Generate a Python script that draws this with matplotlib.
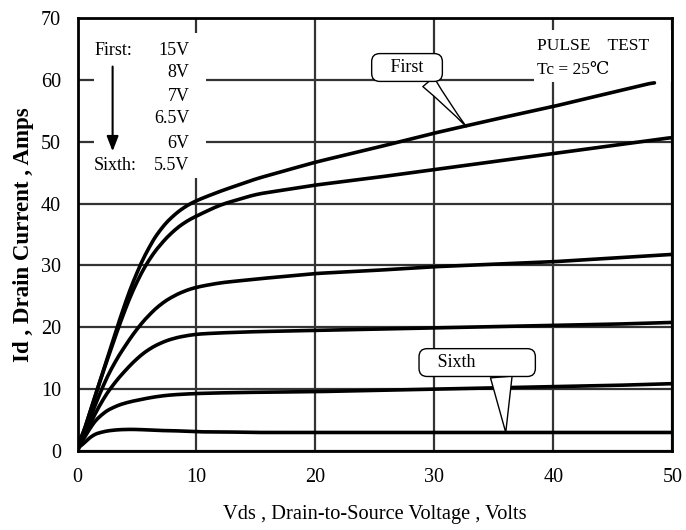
import numpy as np
import matplotlib
matplotlib.use("Agg")
from matplotlib import pyplot as plt
from matplotlib.patches import Rectangle

# Id vs Vds, one curve per gate voltage
vds = [0, 1, 2, 3, 4, 5, 6, 7, 8, 9, 10, 12, 15, 20, 25, 30, 35, 40, 45, 50]
vds_first = [0, 1, 2, 3, 4, 5, 6, 7, 8, 9, 10, 12, 15, 20, 25, 30, 35, 40, 45, 48.5]
id_15v = [0, 6, 12, 18, 24, 29, 33, 36, 38, 39.5, 40.5, 42, 44, 46.7, 49, 51.4, 53.6, 55.7, 58, 59.6]
id_8v = [0, 6, 12, 17.5, 23, 27.5, 31, 33.5, 35.5, 37, 38, 39.8, 41.5, 43.0, 44.2, 45.5, 46.8, 48.1, 49.4, 50.7]
id_7v = [0, 5, 10, 14, 17, 19.8, 22, 23.8, 25, 25.9, 26.5, 27.2, 27.8, 28.7, 29.2, 29.8, 30.2, 30.6, 31.2, 31.8]
id_6v5 = [0, 4.2, 8, 10.8, 13, 15, 16.5, 17.5, 18.2, 18.6, 18.9, 19.1, 19.3, 19.5, 19.7, 19.9, 20.1, 20.3, 20.5, 20.8]
id_6v = [0, 3.8, 6, 7.1, 7.8, 8.2, 8.6, 8.9, 9.1, 9.2, 9.3, 9.4, 9.5, 9.6, 9.8, 10.0, 10.2, 10.4, 10.6, 10.9]
id_5v5 = [0, 2.4, 3.1, 3.4, 3.5, 3.5, 3.4, 3.3, 3.3, 3.2, 3.1, 3.1, 3.0, 3.0, 3.0, 3.0, 3.0, 3.0, 3.0, 3.0]

gate_labels = ["15V", "8V", "7V", "6.5V", "6V", "5.5V"]
x_ticks = [0, 10, 20, 30, 40, 50]
y_ticks = [0, 10, 20, 30, 40, 50, 60, 70]

serif = ["Liberation Serif", "DejaVu Serif"]
plt.rcParams["font.family"] = serif

fig = plt.figure(figsize=(6.86, 5.30), dpi=100)
ax = fig.add_axes([0.113, 0.149, 0.867, 0.817])

curves = [(vds_first, id_15v), (vds, id_8v), (vds, id_7v), (vds, id_6v5), (vds, id_6v), (vds, id_5v5)]
for xs, ys in curves:
    # smooth the hand-read points a bit
    xf = np.linspace(xs[0], xs[-1], 300)
    yf = np.interp(xf, xs, ys)
    k = np.ones(9) / 9
    yp = np.convolve(np.pad(yf, 4, mode="edge"), k, mode="valid")
    yp[0] = 0
    ax.plot(xf, yp, color="black", lw=2.6, solid_capstyle="round", zorder=3)

ax.set_xlim(0, 50)
ax.set_ylim(0, 70)
ax.set_xticks(x_ticks)
ax.set_yticks(y_ticks)
ax.tick_params(length=0, labelsize=14.5, pad=12)
ax.grid(True, color="#333333", lw=1.6, zorder=1)
ax.set_axisbelow(True)
for s in ax.spines.values():
    s.set_linewidth(2)

ax.set_xlabel("Vds , Drain-to-Source Voltage , Volts", fontsize=14.7, labelpad=13)
ax.set_ylabel("Id , Drain Current , Amps", fontsize=16.5, fontweight="bold", labelpad=5)

# white blocks behind the notes hide the grid
ax.add_patch(Rectangle((1.4, 44.2), 9.4, 23.3, fc="white", ec="none", zorder=2))
ax.add_patch(Rectangle((38.4, 59.7), 11.5, 8.3, fc="white", ec="none", zorder=2))

rows_y = [64.8, 61.2, 57.3, 53.8, 49.7, 46.2]
for yy, lab in zip(rows_y, gate_labels):
    ax.text(9.4, yy, lab, ha="right", va="center", fontsize=13, zorder=4)
ax.text(1.4, rows_y[0], "First:", ha="left", va="center", fontsize=13, zorder=4)
ax.text(1.4, rows_y[-1], "Sixth:", ha="left", va="center", fontsize=13, zorder=4)
ax.annotate("", xy=(2.95, 48.0), xytext=(2.95, 62.6),
            arrowprops=dict(arrowstyle="-|>,head_length=0.9,head_width=0.35",
                            color="black", lw=1.5), zorder=4)

ax.text(38.6, 65.4, "PULSE    TEST", ha="left", va="center", fontsize=12.5, zorder=4)
ax.text(38.6, 61.6, "Tc = 25\u2103", ha="left", va="center", fontsize=12.5, zorder=4)

box = dict(boxstyle="round,pad=0.3,rounding_size=0.45", fc="white", ec="black", lw=1)
ax.annotate("   First   ", xy=(32.7, 52.4), xytext=(27.7, 62.0), fontsize=13,
            ha="center", va="center", bbox=box, zorder=5,
            arrowprops=dict(arrowstyle="wedge,tail_width=0.8,shrink_factor=0.4",
                            relpos=(0.7, 0.3), shrinkA=0, shrinkB=0,
                            fc="white", ec="black", lw=1))
ax.annotate("   Sixth            ", xy=(36.0, 3.0), xytext=(33.6, 14.3), fontsize=13,
            ha="center", va="center", bbox=box, zorder=5,
            arrowprops=dict(arrowstyle="wedge,tail_width=1.2,shrink_factor=0.5",
                            relpos=(0.72, 0.3), shrinkA=0, shrinkB=0,
                            fc="white", ec="black", lw=1))

fig.savefig("out.png", dpi=100)
